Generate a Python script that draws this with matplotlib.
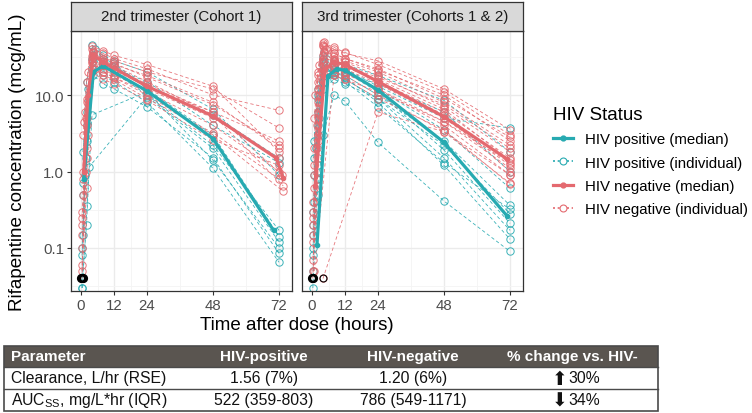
#!/usr/bin/env python3
"""
Rifapentine concentration-time profiles by trimester and HIV status, with PK summary table.
"""

import matplotlib
matplotlib.use('Agg')
import matplotlib.pyplot as plt
from matplotlib.lines import Line2D
from matplotlib.patches import Rectangle
from matplotlib.ticker import FixedLocator, NullFormatter

# ---------------------------------------------------------------------------
# Data
# ---------------------------------------------------------------------------
panel_titles = ['2nd trimester (Cohort 1)', '3rd trimester (Cohorts 1 & 2)']
legend_labels = ['HIV positive (median)', 'HIV positive (individual)',
                 'HIV negative (median)', 'HIV negative (individual)']
x_ticks = [0, 12, 24, 48, 72]
y_ticks = [0.1, 1.0, 10.0]
y_tick_labels = ['0.1', '1.0', '10.0']

# 2nd trimester, HIV positive individuals
t2_pos_times = [
    [0.6, 2.0, 4.2, 8, 12, 24, 48, 72],
    [0.4, 1.8, 4.0, 8, 12, 24, 48, 72],
    [0.8, 2.2, 4.5, 8, 12, 24, 48, 72],
    [0.5, 2.0, 3.0, 24, 48, 72],
    [0.3, 1.5, 4.0, 8, 12, 24, 48, 72],
    [0.7, 2.5, 5.0, 8, 12, 24, 48, 72],
    [0.5, 2.0, 4.5, 8, 12, 24, 48, 72],
    [0.5, 2.2, 4.0, 24, 48, 72],
    [0.6, 2.0, 4.0, 8, 12, 24, 48, 72],
]
t2_pos_conc = [
    [0.15, 4.0, 28, 24, 20, 10, 2.2, 0.17],
    [0.08, 1.5, 45, 30, 26, 12, 3.0, 0.14],
    [0.5, 6.0, 33, 28, 24, 13, 5.5, 1.5],
    [0.04, 0.2, 1.15, 9.5, 2.0, 0.12],
    [0.03, 0.9, 22, 18, 15, 8, 1.1, 0.065],
    [1.8, 12, 40, 33, 28, 20, 6.5, 0.9],
    [0.1, 2.5, 18, 14, 12, 7, 1.5, 0.085],
    [0.03, 0.35, 5.5, 11, 1.4, 0.1],
    [0.7, 15, 30, 25, 22, 15, 4.0, 1.3],
]

# 2nd trimester, HIV negative individuals
t2_neg_times = [
    [0.5, 2.0, 4.0, 8, 12, 24, 48, 72],
    [0.6, 2.2, 4.5, 8, 12, 24, 48, 72],
    [0.4, 1.8, 4.0, 8, 12, 24, 48, 72],
    [0.8, 2.0, 4.2, 8, 12, 24, 48, 72],
    [0.5, 2.5, 4.0, 8, 12, 24, 48, 72],
    [0.3, 2.0, 4.5, 8, 12, 24, 48, 72],
    [0.7, 1.5, 4.0, 8, 12, 24, 48, 72],
    [0.5, 2.0, 5.0, 8, 12, 24, 48, 72],
    [1.0, 2.4, 4.0, 8, 12, 24, 48, 72],
    [0.5, 2.0, 4.0, 8, 12, 24, 48, 73.5],
    [0.6, 2.0, 4.2, 8, 12, 24, 48, 73.5],
    [0.4, 2.2, 4.0, 8, 12, 24, 48, 72],
    [0.5, 1.8, 4.5, 8, 12, 24, 48, 73],
]
t2_neg_conc = [
    [0.2, 5, 40, 35, 30, 22, 10, 6.3],
    [1.0, 8, 35, 30, 28, 20, 12, 3.7],
    [0.05, 1.0, 28, 25, 22, 14, 6, 2.5],
    [3.0, 15, 38, 28, 25, 18, 8, 2.0],
    [0.1, 3, 30, 22, 18, 12, 5, 1.5],
    [0.04, 0.6, 25, 20, 17, 11, 4, 1.0],
    [0.5, 6, 32, 30, 26, 17, 7.5, 2.2],
    [0.15, 2, 22, 18, 16, 9, 3.2, 0.8],
    [4.5, 20, 44, 38, 33, 25, 13, 1.8],
    [0.3, 4, 26, 20, 17, 10, 3, 0.55],
    [0.8, 9, 36, 27, 24, 15, 5.5, 0.65],
    [0.06, 1.5, 20, 16, 14, 8.5, 2.6, 1.2],
    [0.25, 5, 33, 26, 21, 13, 6, 0.9],
]

# 3rd trimester, HIV positive individuals
t3_pos_times = [
    [0.5, 2.0, 4.0, 8, 12, 24, 48, 72],
    [0.6, 2.0, 4.5, 8, 12, 24, 48, 72],
    [0.4, 1.8, 4.0, 8, 12, 24, 48, 72],
    [0.5, 2.2, 5.0, 8, 12, 24, 48, 72],
    [0.8, 2.0, 4.0, 8, 12, 24, 48, 72],
    [0.3, 2.0, 4.0, 8, 12, 24, 48, 72],
    [0.5, 2.5, 4.5, 8, 12, 24, 48, 72],
    [0.6, 2.0, 4.0, 8, 12, 24, 48, 72],
    [0.5, 1.5, 4.0, 8, 12, 24, 48, 72],
    [0.7, 2.0, 4.0, 8, 12, 24, 48, 72],
    [0.5, 2.0, 4.0, 8, 12, 24, 48, 72],
]
t3_pos_conc = [
    [0.2, 4, 30, 24, 22, 13, 5, 3.7],
    [1.5, 10, 36, 28, 25, 18, 8.5, 1.8],
    [0.05, 0.8, 15, 20, 18, 10, 2.5, 0.36],
    [0.3, 3, 20, 22, 20, 11, 1.9, 0.21],
    [0.9, 6, 25, 18, 16, 9, 1.5, 0.17],
    [0.03, 0.5, 3, 10, 8.3, 2.4, 0.41, 0.09],
    [0.15, 5, 28, 23, 20, 12, 3.5, 0.6],
    [0.4, 9, 32, 20, 17, 8, 1.2, 0.13],
    [0.08, 2, 22, 19, 15, 7, 1.3, 0.32],
    [2.5, 12, 26, 21, 19, 14, 6, 1.0],
    [0.1, 1.2, 12, 16, 14, 9, 2.2, 0.28],
]

# 3rd trimester, HIV negative individuals
t3_neg_times = [
    [0.5, 2.0, 4.0, 8, 12, 24, 48, 72],
    [0.6, 2.0, 4.5, 8, 12, 24, 48, 72],
    [0.4, 1.8, 4.0, 8, 12, 24, 48, 72],
    [0.8, 2.2, 5.0, 8, 12, 24, 48, 72],
    [0.5, 2.0, 4.0, 8, 12, 24, 48, 72],
    [0.3, 2.0, 4.0, 8, 12, 24, 48, 72],
    [0.7, 2.5, 4.5, 8, 12, 24, 48, 72],
    [0.5, 2.0, 5.0, 8, 12, 24, 48, 72],
    [1.0, 2.4, 4.0, 8, 12, 24, 48, 72],
    [0.5, 2.0, 4.0, 8, 12, 24, 48, 72],
    [0.6, 2.0, 4.2, 8, 12, 24, 48, 72],
    [0.4, 2.2, 4.0, 8, 12, 24, 48, 72],
    [0.5, 1.8, 4.5, 8, 12, 24, 48, 72],
    [0.8, 2.0, 4.0, 8, 12, 24, 48, 72],
    [0.5, 2.0, 4.0, 8, 12, 24, 48, 72],
    [4.0, 24, 48, 72],
    [0.8, 8, 12, 24, 48, 72],
]
t3_neg_conc = [
    [0.3, 8, 45, 40, 35, 28, 12, 3.5],
    [1.2, 15, 50, 35, 30, 22, 9, 2.8],
    [0.05, 2, 30, 28, 25, 15, 6, 1.5],
    [5, 20, 40, 32, 28, 20, 8, 2.2],
    [0.15, 5, 28, 25, 22, 14, 5, 1.2],
    [0.04, 0.8, 22, 24, 20, 12, 4, 0.9],
    [0.6, 10, 38, 30, 27, 18, 7, 1.8],
    [0.2, 3, 25, 20, 18, 10, 3.3, 0.7],
    [10, 25, 48, 42, 36, 25, 11, 3.0],
    [0.4, 6, 33, 26, 23, 16, 6.5, 1.4],
    [0.9, 12, 42, 30, 25, 15, 5.5, 1.0],
    [0.07, 1.5, 20, 18, 16, 9, 3.5, 0.68],
    [0.25, 4, 35, 28, 24, 17, 7.5, 2.0],
    [2, 18, 44, 35, 30, 21, 10, 2.5],
    [0.12, 2.5, 26, 22, 19, 12, 4.5, 1.1],
    [0.04, 6, 3.3, 0.9],
    [0.05, 18, 16, 11, 4.5, 1.3],
]

# Median profiles
t2_pos_med_t = [1.0, 4.5, 8, 24, 48, 70]
t2_pos_med_c = [0.8, 20, 24, 11.3, 2.7, 0.17]
t2_neg_med_t = [1.0, 2.5, 4.5, 8, 24, 48, 71, 73.5]
t2_neg_med_c = [1.0, 10, 33, 27, 13, 5.3, 1.5, 0.82]
t3_pos_med_t = [1.8, 5.8, 9, 12, 24, 48, 71]
t3_pos_med_c = [0.11, 17.7, 22, 21, 11.6, 2.4, 0.26]
t3_neg_med_t = [1.2, 4.7, 8, 12, 24, 48, 71]
t3_neg_med_c = [0.65, 22, 27, 25, 15, 5.2, 1.45]

# Below-quantification samples (black)
t2_blq_t = [0.0, 0.3, 0.6]
t2_blq_c = [0.04, 0.04, 0.04]
t3_blq_t = [0.0, 0.4]
t3_blq_c = [0.04, 0.04]
t3_blq_open_t = [4.0]
t3_blq_open_c = [0.04]

# Summary table
table_header = ['Parameter', 'HIV-positive', 'HIV-negative', '% change vs. HIV-']
table_params = ['Clearance, L/hr (RSE)', r'AUC$_{\mathregular{SS}}$, mg/L*hr (IQR)']
table_pos = ['1.56 (7%)', '522 (359-803)']
table_neg = ['1.20 (6%)', '786 (549-1171)']
table_arrows = ['\u2B06', '\u2B07']
table_change = ['30%', '34%']

# ---------------------------------------------------------------------------
# Styling
# ---------------------------------------------------------------------------
POS = '#27AAB1'
NEG = '#E4696F'
W, H = 752, 414

plt.rcParams['font.family'] = ['Liberation Sans', 'DejaVu Sans']
plt.rcParams['mathtext.fontset'] = 'custom'
plt.rcParams['mathtext.rm'] = 'Liberation Sans'


def fx(px):
    return px / W


def fy(py):
    return 1 - py / H


def draw_individuals(ax, times, concs, color):
    for t, c in zip(times, concs):
        ax.plot(t, c, color=color, lw=0.6, ls=(0, (4, 3)), alpha=0.9,
                marker='o', ms=5.3, mfc='none', mew=0.7, zorder=2)


def draw_panel(ax, strip_ax, title, pos, neg, pos_med, neg_med, blq, blq_open=None):
    draw_individuals(ax, pos[0], pos[1], POS)
    draw_individuals(ax, neg[0], neg[1], NEG)
    ax.plot(pos_med[0], pos_med[1], color=POS, lw=2.3, marker='o', ms=3, zorder=4)
    ax.plot(neg_med[0], neg_med[1], color=NEG, lw=2.3, marker='o', ms=3, zorder=4)
    ax.plot(blq[0], blq[1], ls='none', marker='o', ms=5, mfc='none', mec='black',
            mew=1.6, zorder=5)
    if blq_open is not None:
        ax.plot(blq_open[0], blq_open[1], ls='none', marker='o', ms=5, mfc='none',
                mec='black', mew=0.8, zorder=5)

    ax.set_yscale('log')
    ax.set_xlim(-3.64, 76.7)
    ax.set_ylim(0.0274, 68.7)
    ax.set_xticks(x_ticks)
    ax.set_xticklabels([str(v) for v in x_ticks])
    ax.xaxis.set_minor_locator(FixedLocator([6, 18, 36, 60]))
    ax.set_yticks(y_ticks)
    ax.yaxis.set_minor_locator(FixedLocator([10 ** -1.5, 10 ** -0.5, 10 ** 0.5, 10 ** 1.5]))
    ax.yaxis.set_minor_formatter(NullFormatter())
    ax.grid(True, which='major', color='#EBEBEB', lw=1.0)
    ax.grid(True, which='minor', color='#F4F4F4', lw=0.6)
    ax.set_axisbelow(True)
    ax.tick_params(which='major', length=3, width=0.8, color='#333333',
                   labelcolor='#4D4D4D', labelsize=10.8, pad=2)
    ax.tick_params(which='minor', length=0)
    for sp in ax.spines.values():
        sp.set_color('#333333')
        sp.set_linewidth(0.9)

    strip_ax.set_facecolor('#D9D9D9')
    strip_ax.set_xticks([])
    strip_ax.set_yticks([])
    for sp in strip_ax.spines.values():
        sp.set_color('#333333')
        sp.set_linewidth(0.9)
    strip_ax.text(0.5, 0.5, title, ha='center', va='center', fontsize=10.9,
                  color='#1A1A1A', transform=strip_ax.transAxes)


def draw_table(fig):
    left, right = 4, 658
    rows = [347, 368, 390, 412]
    col_x = [11, 264, 413, 572]

    fig.patches.append(Rectangle((fx(left), fy(rows[1])), fx(right - left),
                                 (rows[1] - rows[0]) / H, transform=fig.transFigure,
                                 facecolor='#5A5550', edgecolor='none'))
    fig.patches.append(Rectangle((fx(left), fy(rows[3])), fx(right - left),
                                 (rows[3] - rows[0]) / H, transform=fig.transFigure,
                                 facecolor='none', edgecolor='#4A4A4A', lw=1.2))
    for y in rows[1:3]:
        fig.add_artist(Line2D([fx(left), fx(right)], [fy(y), fy(y)],
                              transform=fig.transFigure, color='#4A4A4A', lw=1.0))

    yc = (rows[0] + rows[1]) / 2
    for i, label in enumerate(table_header):
        fig.text(fx(col_x[i]), fy(yc), label, ha='left' if i == 0 else 'center',
                 va='center', color='white', fontweight='bold', fontsize=11)

    for r in range(2):
        yc = (rows[r + 1] + rows[r + 2]) / 2
        fig.text(fx(col_x[0]), fy(yc), table_params[r], ha='left', va='center',
                 fontsize=11.3, color='#111111')
        fig.text(fx(col_x[1]), fy(yc), table_pos[r], ha='center', va='center',
                 fontsize=11.3, color='#111111')
        fig.text(fx(col_x[2]), fy(yc), table_neg[r], ha='center', va='center',
                 fontsize=11.3, color='#111111')
        fig.text(fx(col_x[3] - 12), fy(yc + 0.5), table_arrows[r], ha='center', va='center',
                 fontsize=13.5, color='#111111', family=['DejaVu Sans'])
        fig.text(fx(col_x[3] - 4), fy(yc), table_change[r], ha='left', va='center',
                 fontsize=11.3, color='#111111')


def main():
    fig = plt.figure(figsize=(W / 100, H / 100), dpi=100)

    panel_lefts = [71, 302]
    panel_w = 221
    top, bottom, strip_top = 32, 292, 3
    data = [
        ((t2_pos_times, t2_pos_conc), (t2_neg_times, t2_neg_conc),
         (t2_pos_med_t, t2_pos_med_c), (t2_neg_med_t, t2_neg_med_c),
         (t2_blq_t, t2_blq_c), None),
        ((t3_pos_times, t3_pos_conc), (t3_neg_times, t3_neg_conc),
         (t3_pos_med_t, t3_pos_med_c), (t3_neg_med_t, t3_neg_med_c),
         (t3_blq_t, t3_blq_c), (t3_blq_open_t, t3_blq_open_c)),
    ]
    axes = []
    for i, lx in enumerate(panel_lefts):
        ax = fig.add_axes([fx(lx), fy(bottom), panel_w / W, (bottom - top) / H])
        sax = fig.add_axes([fx(lx), fy(top), panel_w / W, (top - strip_top) / H])
        draw_panel(ax, sax, panel_titles[i], *data[i])
        axes.append(ax)
    axes[0].set_yticklabels(y_tick_labels)
    axes[1].set_yticklabels([])
    axes[1].tick_params(axis='y', which='major', length=0)

    fig.text(fx(18), fy(162), 'Rifapentine concentration (mcg/mL)', rotation=90,
             ha='center', va='center', fontsize=13.6)
    fig.text(fx(297), fy(325), 'Time after dose (hours)', ha='center', va='center',
             fontsize=13.5)

    # Legend
    handles = [
        Line2D([], [], color=POS, lw=2.3, marker='o', ms=3.5),
        Line2D([], [], color=POS, lw=1.2, ls=(0, (1.2, 1.6)), marker='o', ms=5,
               mfc='white', mew=0.8),
        Line2D([], [], color=NEG, lw=2.3, marker='o', ms=3.5),
        Line2D([], [], color=NEG, lw=1.2, ls=(0, (1.2, 1.6)), marker='o', ms=5,
               mfc='white', mew=0.8),
    ]
    fig.legend(handles, legend_labels, title='HIV Status', loc='upper left',
               bbox_to_anchor=(fx(553), fy(107)), frameon=False, fontsize=10.8,
               title_fontsize=13.5, alignment='left', borderpad=0, borderaxespad=0,
               handlelength=1.35, handletextpad=0.8, labelspacing=0.62)

    draw_table(fig)

    plt.savefig('out.png', dpi=100)


if __name__ == "__main__":
    main()
